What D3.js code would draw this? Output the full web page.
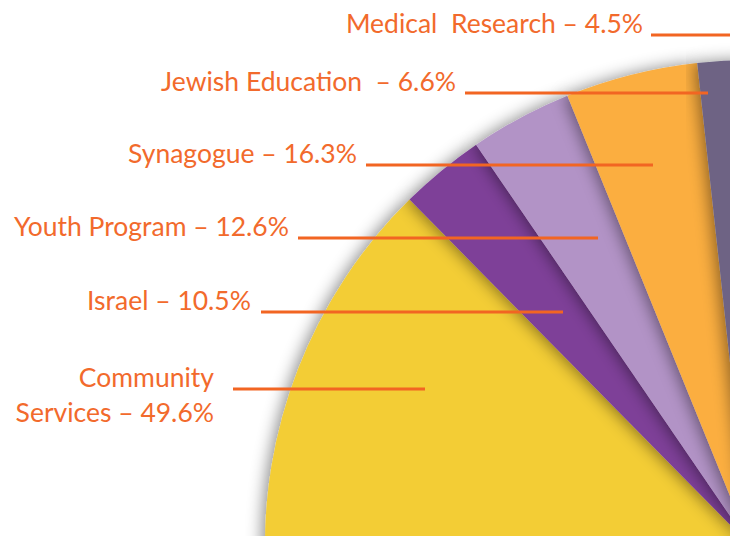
<!DOCTYPE html>
<html>
<head>
<meta charset="utf-8">
<script src="https://cdn.jsdelivr.net/npm/d3@7"></script>
<style>
  body { margin: 0; background: #fff; }
  text { font-family: Lato, "Open Sans", sans-serif; fill: #F26A2C; white-space: pre; }
</style>
</head>
<body>
<div id="plot"></div>
<script>
// data
const categories = ['Community Services', 'Israel', 'Youth Program', 'Synagogue', 'Jewish Education', 'Medical Research'];
const values = [49.6, 10.5, 12.6, 16.3, 6.6, 4.5];
const labelLines = [
  ['Community', 'Services \u2013 49.6%'],
  ['Israel \u2013 10.5%'],
  ['Youth Program \u2013 12.6%'],
  ['Synagogue \u2013 16.3%'],
  ['Jewish Education  \u2013 6.6%'],
  ['Medical  Research \u2013 4.5%']
];
const colors = ['#F3CD35', '#7E3F98', '#B293C6', '#FBAE40', '#6E6484', '#F7941E'];

// label layout (baseline of the leader row, right edge of text, leader start/end)
const labelY = [389, 312, 238, 165, 93, 35];
const labelRight = [214, 251, 289, 357, 456, 643];
const leaderStart = [233, 261, 298, 366, 465, 651];
const leaderEnd = [425, 563, 598, 653, 708, 760];

function plot() {
  var width = 730, height = 536;
  var cx = 750, cy = 545, radius = 485;

  var svg = d3.select('#plot').append('svg')
      .attr('width', width)
      .attr('height', height);

  var defs = svg.append('defs');
  var f = defs.append('filter').attr('id', 'soft')
      .attr('x', '-20%').attr('y', '-20%').attr('width', '140%').attr('height', '140%');
  f.append('feDropShadow')
      .attr('dx', -3).attr('dy', 0)
      .attr('stdDeviation', 8)
      .attr('flood-color', '#000')
      .attr('flood-opacity', 0.45);

  var deg = Math.PI / 180;
  var pie = d3.pie().sort(null)
      .startAngle(-92.85 * deg)
      .endAngle(4.55 * deg);
  var arcs = pie(values);
  var arc = d3.arc().innerRadius(0).outerRadius(radius);

  var g = svg.append('g').attr('transform', `translate(${cx},${cy})`);
  g.selectAll('path')
    .data(arcs)
    .join('path')
      .attr('d', arc)
      .attr('fill', (d, i) => colors[i])
      .attr('filter', 'url(#soft)');

  // leader lines
  svg.selectAll('line.leader')
    .data(categories)
    .join('line')
      .attr('class', 'leader')
      .attr('x1', (d, i) => leaderStart[i])
      .attr('x2', (d, i) => leaderEnd[i])
      .attr('y1', (d, i) => labelY[i])
      .attr('y2', (d, i) => labelY[i])
      .attr('stroke', '#F26522')
      .attr('stroke-width', 3);

  // labels
  var labels = svg.selectAll('text.lab')
    .data(categories)
    .join('text')
      .attr('class', 'lab')
      .attr('text-anchor', 'end')
      .attr('font-size', 26.5);
  labels.each(function(d, i) {
    var t = d3.select(this);
    var lines = labelLines[i];
    lines.forEach((s, j) => {
      t.append('tspan')
        .attr('x', labelRight[i])
        .attr('y', labelY[i] - 2 + j * 35)
        .text(s);
    });
  });
}

plot();
</script>
</body>
</html>
